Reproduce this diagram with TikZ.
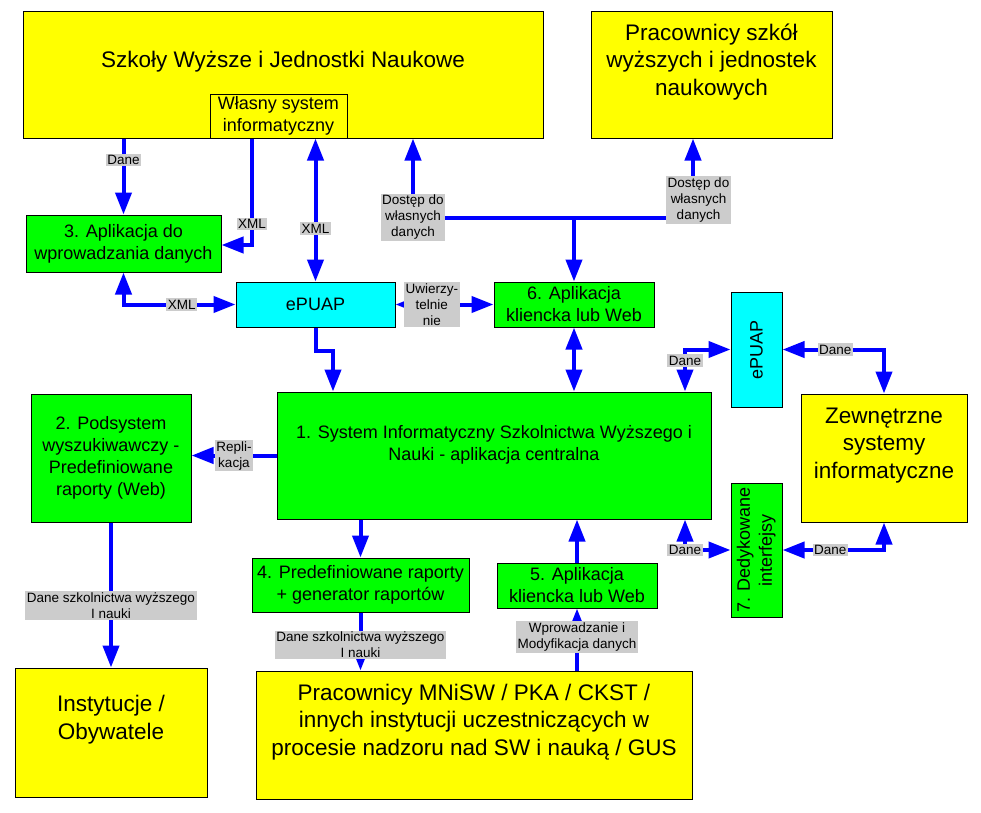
\documentclass[tikz,border=0pt]{standalone}
\usepackage{fontspec}
\setmainfont{Liberation Sans}
\usepackage{graphicx}
\usetikzlibrary{arrows.meta}
\tikzset{>={Triangle[length=22pt,width=16pt]}}
\definecolor{myyellow}{RGB}{255,255,0}
\definecolor{mygreen}{RGB}{0,255,0}
\definecolor{mycyan}{RGB}{0,255,255}
\definecolor{myblue}{RGB}{0,0,255}
\definecolor{mygrey}{RGB}{204,204,204}
\def\gap{\\[3pt]\mbox{}}

\begin{document}
\begin{tikzpicture}[x=1pt,y=-1pt,
  box/.style={draw=black,line width=1pt,inner sep=2pt,align=center,
    font=\fontsize{18}{22}\selectfont},
  bigbox/.style={box,fill=myyellow,font=\fontsize{22.5}{27.5}\selectfont},
  app/.style={box,fill=mygreen},
  pub/.style={box,fill=mycyan},
  lbl/.style={fill=mygrey,inner sep=1.5pt,align=center,
    font=\fontsize{13.5}{16}\selectfont},
  link/.style={draw=myblue,line width=4pt}]

  \useasboundingbox (0,0) rectangle (981,812);

  % boxes
  \node[bigbox,minimum width=520pt,minimum height=127pt] (szkoly) at (283,74.5)
    {Szkoły Wyższe i Jednostki Naukowe\gap};
  \node[box,fill=myyellow,minimum width=137pt,minimum height=44pt] (wlasny) at (278.5,116)
    {Własny system\\informatyczny};
  \node[bigbox,minimum width=241pt,minimum height=127pt] (prac) at (711.5,74.5)
    {Pracownicy szkół\\wyższych i jednostek\\naukowych\gap};
  \node[app,minimum width=195pt,minimum height=57pt] (apl3) at (123.5,243.5)
    {3. Aplikacja do\\wprowadzania danych};
  \node[pub,minimum width=159pt,minimum height=45pt] (epuap) at (315.5,304.5) {ePUAP};
  \node[app,minimum width=160pt,minimum height=45pt] (apl6) at (574,304.5)
    {6. Aplikacja\\kliencka lub Web};
  \node[pub,minimum width=51pt,minimum height=115pt] (epuapv) at (756.5,349.5)
    {\rotatebox{90}{ePUAP}};
  \node[app,minimum width=160pt,minimum height=128pt] (podsys2) at (111,458)
    {2. Podsystem\\wyszukiwawczy -\\Predefiniowane\\raporty (Web)};
  \node[app,minimum width=434pt,minimum height=127pt] (sys1) at (494,455.5)
    {1. System Informatyczny Szkolnictwa Wyższego i\\Nauki - aplikacja centralna\gap};
  \node[bigbox,minimum width=166pt,minimum height=128pt] (zewn) at (884,458)
    {Zewnętrzne\\systemy\\informatyczne\gap};
  \node[app,minimum width=217pt,minimum height=54pt] (rap4) at (360.5,585)
    {4. Predefiniowane raporty\\+ generator raportów};
  \node[app,minimum width=160pt,minimum height=45pt] (apl5) at (577,585.5)
    {5. Aplikacja\\kliencka lub Web};
  \node[app,minimum width=51pt,minimum height=134pt] (ded7) at (756.5,550)
    {\rotatebox{90}{\begin{tabular}{@{}c@{}}7. Dedykowane\\interfejsy\end{tabular}}};
  \node[bigbox,minimum width=192pt,minimum height=129pt] (inst) at (111,732.5)
    {Instytucje /\\Obywatele\gap};
  \node[bigbox,minimum width=436pt,minimum height=128pt] (mnisw) at (474,735)
    {Pracownicy MNiSW / PKA / CKST /\\innych instytucji uczestniczących w\\procesie nadzoru nad SW i nauką / GUS\gap};

  % top arrows
  \draw[link,->] (szkoly.south -| apl3.north) -- node[lbl,pos=0.28] {Dane} (apl3.north);
  \draw[link,->] ([xshift=-26.5pt]wlasny.south) |- node[lbl,pos=0.4] {XML} ([yshift=-1.5pt]apl3.east);
  \draw[link,<->] (szkoly.south -| epuap.north) -- node[lbl,pos=0.63] {XML} (epuap.north);
  \draw[link,<->] (apl3.south) |- node[lbl,pos=0.76] {XML} (epuap.west);

  % own data access
  \coordinate (junc) at ([yshift=64pt]apl6.north);
  \draw[link,->] (junc) -- (apl6.north);
  \draw[link,->] (junc) -| node[lbl] {Dostęp do\\własnych\\danych} ([xshift=130pt]szkoly.south);
  \draw[link,->] (junc) -| node[lbl,pos=0.61,xshift=5.5pt] {Dostęp do\\własnych\\danych} ([xshift=-18.5pt]prac.south);

  % middle arrows
  \draw[link,<->] (epuap.east) -- node[lbl,pos=0.37] {Uwierzy-\\telnie\\nie} (apl6.west);
  \draw[link,->] (epuap.south) -- ++(0,23) -| ([xshift=-161pt]sys1.north);
  \draw[link,<->] (apl6.south) -- (apl6.south |- sys1.north);
  \draw[link,->] (sys1.west) -- node[lbl] {Repli-\\kacja} (sys1.west -| podsys2.east);

  % external systems
  \draw[link,<->] ([xshift=191pt]sys1.north) |- node[lbl,pos=0.37] {Dane} (epuapv.west);
  \draw[link,<->] (epuapv.east) -| node[lbl,pos=0.26] {Dane} (zewn.north);
  \draw[link,<->] ([xshift=191pt]sys1.south) |- node[lbl] {Dane} (ded7.west);
  \draw[link,<->] (ded7.east) -| node[lbl,pos=0.235] {Dane} (zewn.south);

  % bottom arrows
  \draw[link,->] (podsys2.south) -- node[lbl,pos=0.575] {Dane szkolnictwa wyższego\\I nauki} (inst.north);
  \draw[link,->] (sys1.south -| rap4.north) -- (rap4.north);
  \draw[link,->] (rap4.south) -- node[lbl,pos=0.56] {Dane szkolnictwa wyższego\\I nauki} (rap4.south |- mnisw.north);
  \draw[link,->] (mnisw.north -| apl5.south) -- node[lbl,pos=0.54] {Wprowadzanie i\\Modyfikacja danych} (apl5.south);
  \draw[link,->] (apl5.north) -- (apl5.north |- sys1.south);

\end{tikzpicture}
\end{document}
